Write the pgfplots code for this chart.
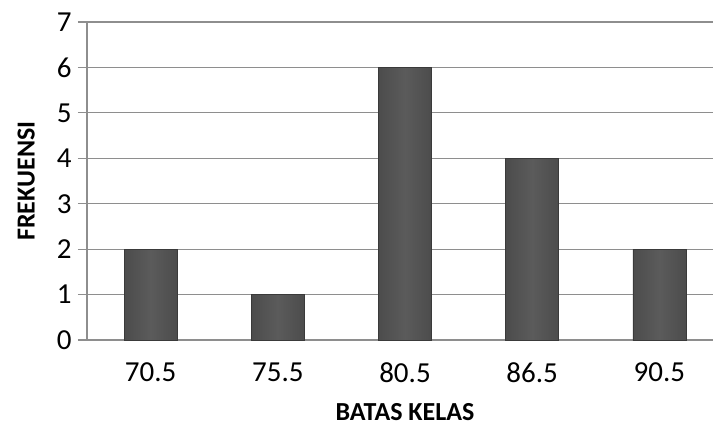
\documentclass[border=0pt]{standalone}
\usepackage{pgfplots}
\pgfplotsset{compat=1.18}
\usepackage{fontspec}
\setmainfont{Carlito}
\definecolor{gridgray}{HTML}{8E8E8E}
\definecolor{barmid}{HTML}{5B5B5B}
\definecolor{baredge}{HTML}{4C4C4C}
\definecolor{barline}{HTML}{3A3A3A}
\begin{document}
\begin{tikzpicture}
\begin{axis}[
  name=ax,
  width=636pt, height=318pt, scale only axis,
  ybar, bar width=53pt, bar shift=0pt,
  xmin=-0.5, xmax=4.5, ymin=0, ymax=7,
  xtick={0,1,2,3,4},
  xticklabels={70.5,75.5,80.5,86.5,90.5},
  ytick={0,1,...,7},
  major x tick style={draw=none},
  ytick style={draw=gridgray, line width=1.2pt},
  tick align=outside, major tick length=9pt,
  ymajorgrids, grid style={draw=gridgray, line width=1.2pt},
  axis line style={draw=gridgray, line width=1.2pt},
  axis x line*=bottom, axis y line*=left,
  separate axis lines,
  x axis line style={-}, y axis line style={-},
  /pgf/number format/assume math mode=true,
  ticklabel style={font=\fontsize{29}{34}\selectfont},
  yticklabel style={xshift=-3pt},
  xticklabel style={yshift=-10pt},
  xlabel={\textbf{BATAS KELAS}},
  ylabel={\textbf{FREKUENSI}},
  label style={font=\fontsize{26}{30}\selectfont},
  xlabel style={yshift=-16pt, inner sep=1pt},
  ylabel style={yshift=15pt},
  bevelbar/.style={
    draw=barline, line width=0.8pt,
    left color=baredge, right color=baredge, middle color=barmid},
]
% one plot per bar, so that each bar carries its own shading
\addplot[bevelbar] coordinates {(0,2)};
\addplot[bevelbar] coordinates {(1,1)};
\addplot[bevelbar] coordinates {(2,6)};
\addplot[bevelbar] coordinates {(3,4)};
\addplot[bevelbar] coordinates {(4,2)};
\end{axis}
\pgfresetboundingbox
\path[use as bounding box] ([shift={(-87pt,-86pt)}]ax.south west) rectangle ([shift={(-10pt,22pt)}]ax.north east);
\end{tikzpicture}
\end{document}
